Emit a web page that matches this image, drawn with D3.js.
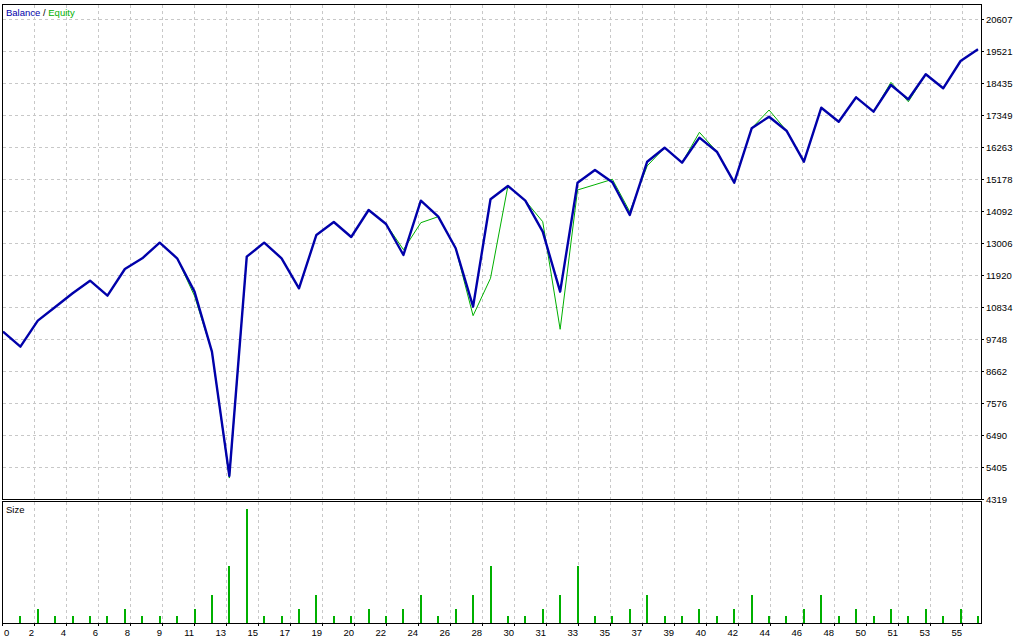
<!DOCTYPE html>
<html>
<head>
<meta charset="utf-8">
<script src="https://cdn.jsdelivr.net/npm/d3@7/dist/d3.min.js"></script>
<style>
  html, body { margin: 0; padding: 0; background: #ffffff; }
  svg { display: block; }
  text { font-family: "Liberation Sans", Arial, sans-serif; font-size: 9.5px; fill: #000; }
</style>
</head>
<body>
<svg id="chart" width="1024" height="640"></svg>
<script>
// ---- data ----
const balance = [10000, 9488, 10371, 10835, 11299, 11728, 11219, 12124, 12487, 13017,
  12487, 11355, 9319, 5101, 12542, 13017, 12487, 11469, 13278, 13719,
  13210, 14126, 13651, 12600, 14442, 13899, 12827, 10845, 14489, 14941,
  14442, 13390, 11355, 15053, 15484, 15066, 13957, 15765, 16240, 15731,
  16580, 16104, 15053, 16898, 17292, 16817, 15765, 17597, 17122, 17950,
  17462, 18368, 17882, 18731, 18256, 19182, 19579];
const equity = [10000, 9488, 10371, 10835, 11299, 11728, 11219, 12124, 12487, 13017,
  12487, 11210, 9319, 5030, 12542, 13017, 12487, 11469, 13278, 13719,
  13210, 14126, 13651, 12780, 13695, 13899, 12827, 10540, 11809, 14941,
  14442, 13729, 10078, 14805, 14985, 15168, 14069, 15623, 16240, 15731,
  16762, 16104, 15053, 16898, 17519, 16817, 15765, 17597, 17122, 17950,
  17462, 18459, 17800, 18731, 18256, 19182, 19579];
const sizes = [0.1, 0.2, 0.1, 0.1, 0.1, 0.1, 0.2, 0.1, 0.1, 0.1,
  0.2, 0.4, 0.8, 1.6, 0.1, 0.1, 0.2, 0.4, 0.1, 0.1,
  0.2, 0.1, 0.2, 0.4, 0.1, 0.2, 0.4, 0.8, 0.1, 0.1,
  0.2, 0.4, 0.8, 0.1, 0.1, 0.2, 0.4, 0.1, 0.1, 0.2,
  0.1, 0.2, 0.4, 0.1, 0.1, 0.2, 0.4, 0.1, 0.2, 0.1,
  0.2, 0.1, 0.2, 0.1, 0.2, 0.1];
const yTickLabels = [20607, 19521, 18435, 17349, 16263, 15178, 14092, 13006, 11920,
  10834, 9748, 8662, 7576, 6490, 5405, 4319];
const xTickLabels = ["0", "2", "4", "6", "8", "9", "11", "13", "15", "17", "19", "20",
  "22", "24", "26", "28", "30", "31", "33", "35", "37", "39", "40", "42", "44", "46",
  "48", "50", "51", "53", "55"];

// ---- layout ----
const L = 3, R = 981;
const mainTop = 5, mainBottom = 499;
const subTop = 502, subBottom = 623;
const blue = "#0000aa", green = "#00b000", gridCol = "#c8c8c8";

const svg = d3.select("#chart");

const x = d3.scaleLinear().domain([0, balance.length - 1]).range([3, 978]);
const y = d3.scaleLinear().domain([4319, 20607]).range([499, 19]);
const xg = d3.scaleLinear().domain([0, xTickLabels.length - 1]).range([2, 962]);
const ys = d3.scaleLinear().domain([0, d3.max(sizes)]).range([subBottom, 509]);

// grid
const grid = svg.append("g").attr("shape-rendering", "crispEdges");
grid.selectAll("line.h").data(yTickLabels.slice(0, -1)).join("line")
  .attr("x1", L).attr("x2", R)
  .attr("y1", d => Math.round(y(d)) + 0.5).attr("y2", d => Math.round(y(d)) + 0.5)
  .attr("stroke", gridCol).attr("stroke-dasharray", "3,3");
xTickLabels.forEach((t, k) => {
  if (k === 0) return;
  const gx = Math.round(xg(k)) + 0.5;
  [[mainTop, mainBottom], [subTop, subBottom]].forEach(([a, b]) => {
    grid.append("line").attr("x1", gx).attr("x2", gx).attr("y1", a).attr("y2", b)
      .attr("stroke", gridCol).attr("stroke-dasharray", "3,3");
  });
});

// size bars
svg.append("g").attr("shape-rendering", "crispEdges")
  .selectAll("rect").data(sizes).join("rect")
  .attr("x", (d, i) => Math.round(x(i + 1)) - 1)
  .attr("width", 2)
  .attr("y", d => ys(d))
  .attr("height", d => subBottom - ys(d))
  .attr("fill", green);

// lines
const line = d3.line().x((d, i) => x(i)).y(d => y(d));
svg.append("path").datum(equity).attr("d", line)
  .attr("fill", "none").attr("stroke", green).attr("stroke-width", 1);
svg.append("path").datum(balance).attr("d", line)
  .attr("fill", "none").attr("stroke", blue).attr("stroke-width", 2.4)
  .attr("stroke-linejoin", "round");

// borders
const borders = svg.append("g").attr("shape-rendering", "crispEdges");
borders.append("rect").attr("x", L - 0.5).attr("y", mainTop - 0.5)
  .attr("width", R - L + 1).attr("height", mainBottom - mainTop + 1)
  .attr("fill", "none").attr("stroke", "#000");
borders.append("rect").attr("x", L - 0.5).attr("y", subTop - 0.5)
  .attr("width", R - L + 1).attr("height", subBottom - subTop + 1)
  .attr("fill", "none").attr("stroke", "#000");

// y axis ticks + labels
const yAx = svg.append("g");
yTickLabels.forEach(v => {
  const yy = Math.round(y(v)) + 0.5;
  yAx.append("line").attr("x1", R).attr("x2", R + 3).attr("y1", yy).attr("y2", yy)
    .attr("stroke", "#000").attr("shape-rendering", "crispEdges");
  yAx.append("text").attr("x", R + 5).attr("y", yy + 3.5).text(v);
});

// x axis ticks + labels
const xAx = svg.append("g");
xTickLabels.forEach((t, k) => {
  const gx = Math.round(xg(k)) + 0.5;
  xAx.append("line").attr("x1", gx).attr("x2", gx).attr("y1", subBottom).attr("y2", subBottom + 3)
    .attr("stroke", "#000").attr("shape-rendering", "crispEdges");
  xAx.append("text")
    .attr("x", k === 0 ? 4 : gx - 0.5)
    .attr("y", 636)
    .attr("text-anchor", k === 0 ? "start" : "end")
    .text(t);
});

// legend / titles
const leg = svg.append("text").attr("x", 6).attr("y", 16);
leg.append("tspan").style("fill", blue).text("Balance");
leg.append("tspan").text(" / ");
leg.append("tspan").style("fill", green).text("Equity");
svg.append("text").attr("x", 6).attr("y", 513).text("Size");
</script>
</body>
</html>
